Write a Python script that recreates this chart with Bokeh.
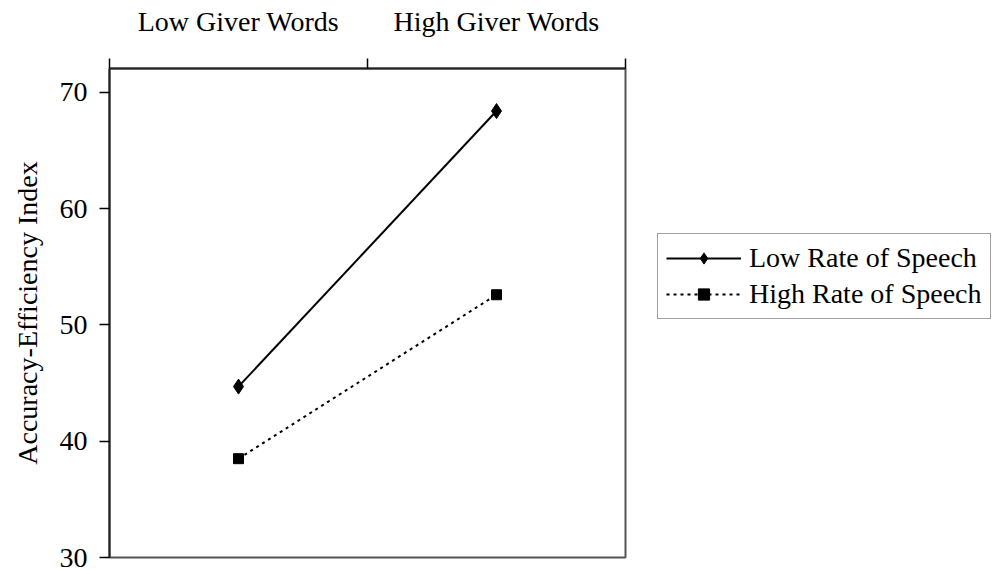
from bokeh.plotting import figure
from bokeh.layouts import row
from bokeh.models import Range1d, LinearAxis, FixedTicker, Legend, LegendItem
from bokeh.embed import file_html
from bokeh.resources import INLINE

categories = ["Low Giver Words", "High Giver Words"]
low_rate = [44.7, 68.4]
high_rate = [38.5, 52.6]
series_names = ["Low Rate of Speech", "High Rate of Speech"]
y_ticks = [30, 40, 50, 60, 70]

FONT = "Liberation Serif"
FS = "28px"

# category positions: centres of equal-width bands
centers = [i + 0.5 for i in range(len(categories))]
bounds = [float(i) for i in range(len(categories) + 1)]

p = figure(width=628, height=574, x_range=Range1d(0, len(categories)),
           y_range=Range1d(30, 72.06), output_backend="svg",
           toolbar_location=None, x_axis_location=None, y_axis_location=None)
p.min_border_left = 109
p.min_border_top = 68
p.min_border_bottom = 17
p.min_border_right = 3
p.xgrid.visible = False
p.ygrid.visible = False
p.outline_line_color = "#555555"
p.outline_line_width = 2
p.background_fill_color = "white"
p.border_fill_color = "white"

# left axis
yax = LinearAxis(ticker=FixedTicker(ticks=y_ticks, minor_ticks=[]),
                 axis_label="Accuracy-Efficiency Index")
yax.major_tick_out = 10
yax.major_tick_in = 0
yax.minor_tick_out = 0
yax.axis_line_color = "#222222"
yax.axis_line_width = 2
yax.major_tick_line_color = "black"
yax.major_tick_line_width = 1.5
yax.major_label_text_font = FONT
yax.major_label_text_font_size = FS
yax.major_label_text_color = "black"
yax.major_label_standoff = 12
yax.axis_label_text_font = FONT
yax.axis_label_text_font_size = FS
yax.axis_label_text_font_style = "normal"
yax.axis_label_text_color = "black"
yax.axis_label_standoff = 14
p.add_layout(yax, "left")

# top axis with boundary ticks
xax = LinearAxis(ticker=FixedTicker(ticks=centers, minor_ticks=bounds))
xax.major_label_overrides = {c: name for c, name in zip(centers, categories)}
xax.major_tick_out = 0
xax.major_tick_in = 0
xax.minor_tick_out = 10
xax.minor_tick_in = 0
xax.minor_tick_line_color = "black"
xax.minor_tick_line_width = 1.5
xax.axis_line_color = "#222222"
xax.axis_line_width = 2
xax.major_label_text_font = FONT
xax.major_label_text_font_size = FS
xax.major_label_text_color = "black"
xax.major_label_standoff = 22
p.add_layout(xax, "above")

line_styles = [dict(line_color="black", line_width=2),
               dict(line_color="black", line_width=2, line_dash="3 4")]
marker_styles = [dict(marker="diamond", size=15, fill_color="black", line_color="black"),
                 dict(marker="square", size=10, fill_color="black", line_color="black")]

for vals, ls, ms in zip([low_rate, high_rate], line_styles, marker_styles):
    p.line(centers, vals, **ls)
    p.scatter(centers, vals, **ms)

# legend panel to the right of the plot frame
q = figure(width=370, height=574, x_range=Range1d(0, 1), y_range=Range1d(0, 1),
           output_backend="svg", toolbar_location=None,
           x_axis_location=None, y_axis_location=None)
q.min_border = 0
q.min_border_left = 0
q.min_border_right = 0
q.min_border_top = 0
q.min_border_bottom = 0
q.outline_line_color = None
q.xgrid.visible = False
q.ygrid.visible = False
q.background_fill_color = "white"
q.border_fill_color = "white"

items = []
for name, vals, ls, ms in zip(series_names, [low_rate, high_rate], line_styles, marker_styles):
    lr = q.line(centers, vals, visible=False, **ls)
    mr = q.scatter(centers, vals, visible=False, **ms)
    items.append(LegendItem(label=name, renderers=[lr, mr]))

legend = Legend(items=items, location=(29, 238))
legend.label_text_font = FONT
legend.label_text_font_size = FS
legend.label_text_color = "black"
legend.glyph_width = 75
legend.glyph_height = 28
legend.label_standoff = 8
legend.spacing = 4
legend.padding = 8
legend.margin = 0
legend.border_line_color = "#444444"
legend.border_line_width = 1.5
legend.background_fill_alpha = 1
q.add_layout(legend)

layout = row(p, q, spacing=0)
open("out.html", "w").write(file_html(layout, INLINE))
